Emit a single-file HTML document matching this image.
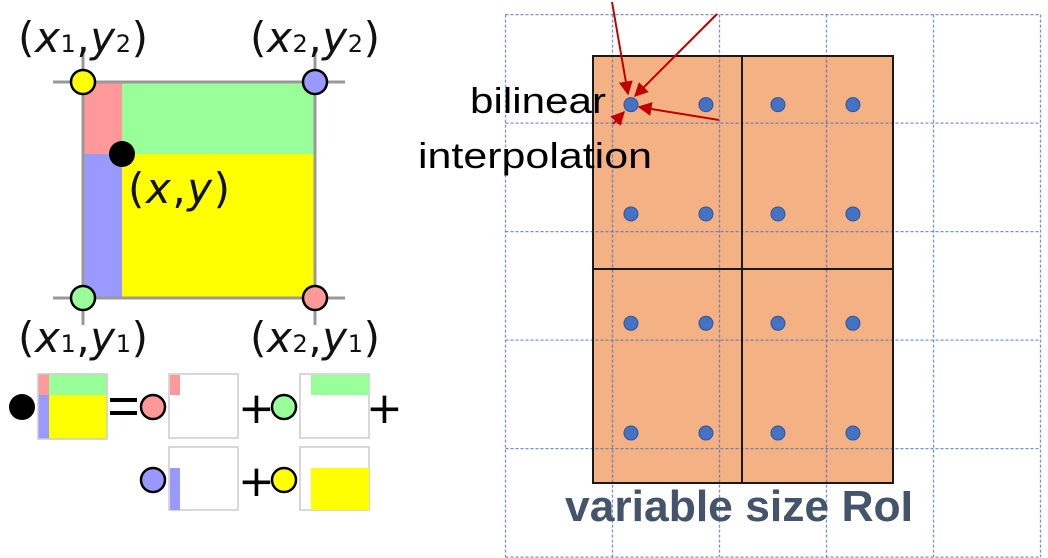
<!DOCTYPE html>
<html><head><meta charset="utf-8"><style>
html,body{margin:0;padding:0;background:#fff;}
svg{display:block;}
.lbl{font-family:"DejaVu Sans","Liberation Sans",sans-serif;font-size:42px;fill:#111;}
.it{font-style:italic;}
.sub{font-size:24px;}
</style></head><body>
<svg width="1048" height="558" viewBox="0 0 1048 558" xmlns="http://www.w3.org/2000/svg">
<defs>
<marker id="ah" viewBox="0 0 10 10" refX="9" refY="5" markerWidth="7" markerHeight="7" orient="auto-start-reverse"><path d="M0,0 L10,5 L0,10 z" fill="#c00000"/></marker>
</defs>
<g>
 <rect x="83" y="82" width="39" height="72" fill="#ff9999"/>
 <rect x="122" y="82" width="193" height="72" fill="#99ff99"/>
 <rect x="83" y="154" width="39" height="144" fill="#9999ff"/>
 <rect x="122" y="154" width="193" height="144" fill="#ffff00"/>
 <g stroke="#999" stroke-width="3">
  <line x1="53" y1="82" x2="345" y2="82"/><line x1="53" y1="298" x2="345" y2="298"/>
  <line x1="83" y1="53" x2="83" y2="325"/><line x1="315" y1="53" x2="315" y2="325"/>
 </g>
 <g stroke="#000" stroke-width="2.5">
  <circle cx="83" cy="82" r="12" fill="#ffff00"/>
  <circle cx="315" cy="82" r="12" fill="#9999ff"/>
  <circle cx="83" cy="298" r="12" fill="#99ff99"/>
  <circle cx="315" cy="298" r="12" fill="#ff9999"/>
 </g>
 <circle cx="122" cy="154" r="13" fill="#000"/>
 <text class="lbl" x="18" y="52" textLength="130" lengthAdjust="spacing">(<tspan class="it">x</tspan><tspan class="sub">1</tspan>,<tspan class="it">y</tspan><tspan class="sub">2</tspan>)</text>
 <text class="lbl" x="250" y="52" textLength="130" lengthAdjust="spacing">(<tspan class="it">x</tspan><tspan class="sub">2</tspan>,<tspan class="it">y</tspan><tspan class="sub">2</tspan>)</text>
 <text class="lbl" x="18" y="352" textLength="130" lengthAdjust="spacing">(<tspan class="it">x</tspan><tspan class="sub">1</tspan>,<tspan class="it">y</tspan><tspan class="sub">1</tspan>)</text>
 <text class="lbl" x="250" y="352" textLength="130" lengthAdjust="spacing">(<tspan class="it">x</tspan><tspan class="sub">2</tspan>,<tspan class="it">y</tspan><tspan class="sub">1</tspan>)</text>
 <text class="lbl" x="128" y="203" textLength="102" lengthAdjust="spacing">(<tspan class="it">x</tspan>,<tspan class="it">y</tspan>)</text>
</g>
<g>
 <circle cx="22" cy="407" r="13" fill="#000"/>
 <rect x="38" y="374" width="11" height="21" fill="#ff9999"/>
 <rect x="49" y="374" width="58" height="21" fill="#99ff99"/>
 <rect x="38" y="395" width="11" height="44" fill="#9999ff"/>
 <rect x="49" y="395" width="58" height="44" fill="#ffff00"/>
 <rect x="38" y="374" width="69" height="65" fill="none" stroke="#ccc" stroke-width="1.5"/>
 <g stroke="#000" stroke-width="4"><line x1="110" y1="400" x2="137" y2="400"/><line x1="110" y1="413" x2="137" y2="413"/></g>
 <circle cx="153" cy="407" r="12" fill="#ff9999" stroke="#000" stroke-width="2.5"/>
 <rect x="169" y="374" width="69" height="64" fill="#fff" stroke="#ccc" stroke-width="1.5"/>
 <rect x="170" y="375" width="10" height="20" fill="#ff9999"/>
 <text x="238" y="423" font-family="DejaVu Sans,sans-serif" font-size="44" fill="#000">+</text>
 <circle cx="284" cy="407" r="12" fill="#99ff99" stroke="#000" stroke-width="2.5"/>
 <rect x="300" y="374" width="69" height="64" fill="#fff" stroke="#ccc" stroke-width="1.5"/>
 <rect x="311" y="375" width="58" height="20" fill="#99ff99"/>
 <text x="366" y="423" font-family="DejaVu Sans,sans-serif" font-size="44" fill="#000">+</text>
 <circle cx="153" cy="480" r="12" fill="#9999ff" stroke="#000" stroke-width="2.5"/>
 <rect x="169" y="447" width="69" height="63" fill="#fff" stroke="#ccc" stroke-width="1.5"/>
 <rect x="170" y="468" width="10" height="42" fill="#9999ff"/>
 <text x="238" y="496" font-family="DejaVu Sans,sans-serif" font-size="44" fill="#000">+</text>
 <circle cx="284" cy="480" r="12" fill="#ffff00" stroke="#000" stroke-width="2.5"/>
 <rect x="300" y="447" width="69" height="63" fill="#fff" stroke="#ccc" stroke-width="1.5"/>
 <rect x="311" y="468" width="58" height="42" fill="#ffff00"/>
</g>
<rect x="593" y="56" width="300" height="427" fill="#f4b183"/>
<g id="grid"></g>
<g stroke="#1a1a1a" stroke-width="2" fill="none">
 <rect x="593" y="56" width="300" height="427"/>
 <line x1="742" y1="56" x2="742" y2="483"/>
 <line x1="593" y1="269" x2="893" y2="269"/>
</g>
<g id="dots"></g>
<g stroke="#c00000" stroke-width="2">
 <line x1="612" y1="2" x2="628" y2="94" marker-end="url(#ah)"/>
 <line x1="717" y1="14" x2="635" y2="96" marker-end="url(#ah)"/>
 <line x1="719" y1="120" x2="639" y2="107" marker-end="url(#ah)"/>
 <line x1="613" y1="124" x2="624" y2="112" marker-end="url(#ah)"/>
</g>
<text x="470" y="113" textLength="136" lengthAdjust="spacingAndGlyphs" font-family="Liberation Sans,sans-serif" font-size="36" fill="#000">bilinear</text>
<text x="418" y="168" textLength="234" lengthAdjust="spacingAndGlyphs" font-family="Liberation Sans,sans-serif" font-size="36" fill="#000">interpolation</text>
<text x="565" y="521" textLength="348" lengthAdjust="spacingAndGlyphs" font-family="Liberation Sans,sans-serif" font-weight="bold" font-size="44" fill="#44546a">variable size RoI</text>
</svg>
<script>
const gridXs=[0,1,2,3,4,5];
const gridYs=[0,1,2,3,4,5];
const dotCols=[0.253,0.753,1.233,1.733];
const dotRows=[0.114,0.37,0.626,0.883];
const NS='http://www.w3.org/2000/svg';
const gx=v=>505.5+v*107, gy=v=>14.6+v*108.5;
const rx=v=>593+v*150, ry=v=>56+v*427;
const grid=document.getElementById('grid');
gridXs.forEach(v=>{const l=document.createElementNS(NS,'line');
l.setAttribute('x1',gx(v));l.setAttribute('x2',gx(v));l.setAttribute('y1',gy(0));l.setAttribute('y2',gy(5));
l.setAttribute('stroke','#4472c4');l.setAttribute('stroke-width','1.3');l.setAttribute('stroke-dasharray','3 2');l.setAttribute('opacity','0.75');


grid.appendChild(l);});
gridYs.forEach(v=>{const l=document.createElementNS(NS,'line');
l.setAttribute('y1',gy(v));l.setAttribute('y2',gy(v));l.setAttribute('x1',gx(0));l.setAttribute('x2',gx(5));
l.setAttribute('stroke','#4472c4');l.setAttribute('stroke-width','1.3');l.setAttribute('stroke-dasharray','3 2');l.setAttribute('opacity','0.75');


grid.appendChild(l);});
const dots=document.getElementById('dots');
dotRows.forEach(r=>dotCols.forEach(c=>{const d=document.createElementNS(NS,'circle');
d.setAttribute('cx',rx(c));d.setAttribute('cy',ry(r));d.setAttribute('r','7');
d.setAttribute('fill','#4472c4');d.setAttribute('stroke','#2f5597');d.setAttribute('stroke-width','1');


dots.appendChild(d);}));
</script>
</body></html>
